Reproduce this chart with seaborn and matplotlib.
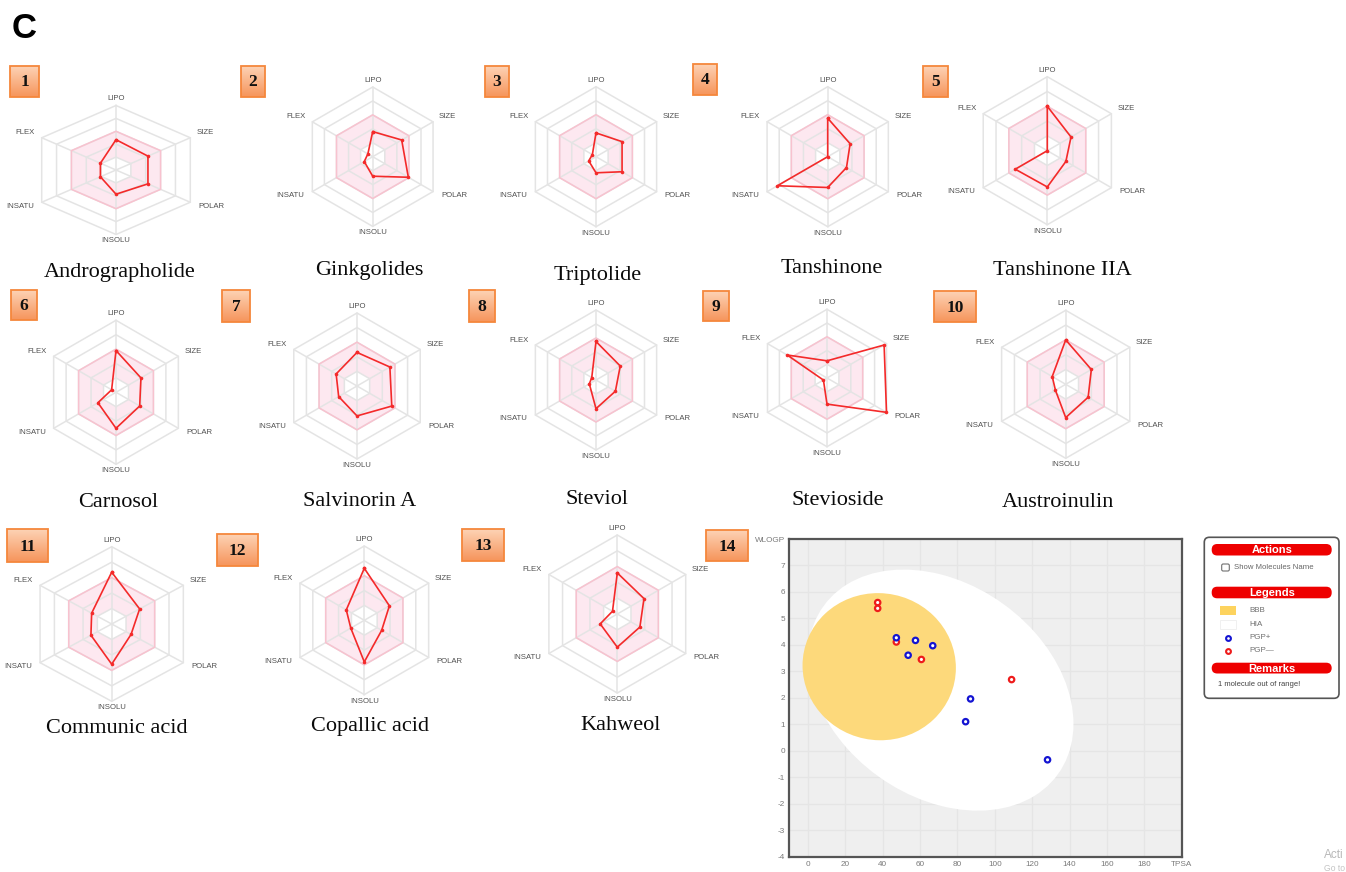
import numpy as np
import pandas as pd
import matplotlib
matplotlib.use("Agg")
import matplotlib.pyplot as plt
import seaborn as sns
from matplotlib.patches import Ellipse, Polygon, Rectangle, FancyBboxPatch
from matplotlib.colors import LinearSegmentedColormap

sns.set_theme(style="white")
plt.rcParams["font.family"] = ["Liberation Sans", "DejaVu Sans"]

# ---------------------------------------------------------------- data
compounds = ["Andrographolide", "Ginkgolides", "Triptolide", "Tanshinone",
             "Tanshinone IIA", "Carnosol", "Salvinorin A", "Steviol",
             "Stevioside", "Austroinulin", "Communic acid", "Copallic acid",
             "Kahweol"]
properties = ["LIPO", "SIZE", "POLAR", "INSOLU", "INSATU", "FLEX"]

# bioavailability radar scores (0 = centre, 1 = outer hexagon)
lipo   = [0.47, 0.36, 0.34, 0.55, 0.60, 0.58, 0.46, 0.55, 0.25, 0.60, 0.67, 0.70, 0.52]
size   = [0.43, 0.48, 0.43, 0.37, 0.37, 0.40, 0.52, 0.40, 0.96, 0.40, 0.39, 0.39, 0.39]
polar  = [0.43, 0.59, 0.43, 0.31, 0.29, 0.38, 0.55, 0.32, 1.00, 0.35, 0.27, 0.27, 0.33]
insolu = [0.375, 0.28, 0.23, 0.44, 0.49, 0.50, 0.41, 0.41, 0.38, 0.45, 0.52, 0.56, 0.42]
insatu = [0.21, 0.14, 0.12, 0.83, 0.50, 0.29, 0.29, 0.11, 0.06, 0.16, 0.29, 0.21, 0.25]
flex   = [0.21, 0.08, 0.06, 0.00, 0.00, 0.07, 0.33, 0.07, 0.67, 0.21, 0.28, 0.28, 0.07]

# BOILED-Egg points
egg_tpsa  = [37.30, 37.30, 47.28, 60.69, 108.97,
             47.28, 57.53, 66.76, 53.60, 86.99, 84.36, 128.20]
egg_wlogp = [5.60, 5.38, 4.11, 3.45, 2.69,
             4.27, 4.17, 3.97, 3.61, 1.96, 1.10, -0.34]
egg_pgp   = ["PGP—"] * 5 + ["PGP+"] * 7

egg_xticks = list(range(0, 181, 20)) + ["TPSA"]
egg_yticks = list(range(-4, 8)) + ["WLOGP"]

# ---------------------------------------------------------------- layout (pixels)
W, H = 1346, 872
radar_center = [(116, 170), (372.7, 156.7), (596, 156.7), (827.7, 156.7), (1047.3, 150.7),
                (116, 392.3), (357, 386), (596, 380), (827, 378), (1065.7, 384.3),
                (111.7, 624), (364.3, 620.3), (617.3, 614)]
radar_radius = [64.5, 69.7, 70, 70, 74, 72, 73, 70, 68.7, 74, 77.3, 74.3, 79]
radar_stretch = [1.33, 1, 1, 1, 1, 1, 1, 1, 1, 1, 1.07, 1, 1]
name_pos = [(120, 272), (369, 270), (598, 275), (832, 268), (1062, 270),
            (118, 502), (360, 501), (597, 499), (838, 500), (1058, 502),
            (117, 728), (370, 726), (621, 725)]
badge_box = [(10, 39, 66, 97), (241, 265, 66, 97), (485, 509, 66, 97), (693, 717, 64, 95),
             (923, 948, 66, 97), (11, 37, 290, 320), (222, 250, 290, 322),
             (469, 495, 290, 322), (703, 729, 291, 321), (934, 976, 291, 322),
             (7, 48, 529, 562), (217, 258, 534, 566), (462, 504, 529, 561),
             (706, 748, 530, 561)]

fig = plt.figure(figsize=(W / 100, H / 100), dpi=100)
fig.patch.set_facecolor("white")


def px_axes(x0, y0, x1, y1, **kw):
    return fig.add_axes([x0 / W, 1 - y1 / H, (x1 - x0) / W, (y1 - y0) / H], **kw)


# full-canvas layer for badges, captions and the legend card
ov = px_axes(0, 0, W, H)
ov.axis("off")
ov.set_zorder(0)

ov.text(12, 28, "C", fontsize=25, fontweight="bold", ha="left", va="center", color="black")

badge_cmap = LinearSegmentedColormap.from_list("badge", ["#fdd2b4", "#f6955c"])
grad = np.linspace(0, 1, 40)[:, None]
for k, (x0, x1, y0, y1) in enumerate(badge_box):
    ov.imshow(grad, extent=(x0, x1, y1, y0), cmap=badge_cmap, aspect="auto", zorder=2)
    ov.add_patch(Rectangle((x0, y0), x1 - x0, y1 - y0, fill=False,
                           edgecolor="#f5873c", lw=1.3, zorder=3))
    ov.text((x0 + x1) / 2, (y0 + y1) / 2 + 1, str(k + 1), family="Liberation Serif",
            fontweight="bold", fontsize=12.5, ha="center", va="center", color="#111111",
            zorder=4)

for name, (nx, ny) in zip(compounds, name_pos):
    ov.text(nx, ny, name, family="Liberation Serif", fontsize=16,
            ha="center", va="center", color="#0a0a0a")

# ---------------------------------------------------------------- radars
theta = np.deg2rad([90, 30, -30, -90, -150, 150])
ux, uy = np.cos(theta), np.sin(theta)
label_style = [((0, 3), "center", "bottom"), ((6, 5), "left", "center"),
               ((8, -4), "left", "center"), ((0, -3), "center", "top"),
               ((-8, -4), "right", "center"), ((-7, 5), "right", "center")]
score_table = pd.DataFrame({"LIPO": lipo, "SIZE": size, "POLAR": polar,
                            "INSOLU": insolu, "INSATU": insatu, "FLEX": flex},
                           index=compounds)

for i, comp in enumerate(compounds):
    cx, cy = radar_center[i]
    r = radar_radius[i]
    sx = radar_stretch[i]
    bw, bh = 1.3 * r * sx, 1.25 * r
    ax = px_axes(cx - bw, cy - bh, cx + bw, cy + bh)
    ax.set_zorder(2)
    ax.set_xlim(-bw / (r * sx), bw / (r * sx))
    ax.set_ylim(-bh / r, bh / r)
    ax.axis("off")

    # optimal (pink) band between the 0.2 and 0.6 hexagons
    ax.add_patch(Polygon(np.c_[0.6 * ux, 0.6 * uy], closed=True, fc="#fde8f0", ec="none", zorder=1))
    ax.add_patch(Polygon(np.c_[0.2 * ux, 0.2 * uy], closed=True, fc="white", ec="none", zorder=1.1))
    for k in (0.2, 0.4, 0.6, 0.8, 1.0):
        ax.add_patch(Polygon(np.c_[k * ux, k * uy], closed=True, fill=False,
                             ec="#e4e4e4", lw=1.1, zorder=2))
    for j in range(6):
        ax.plot([0, ux[j]], [0, uy[j]], color="#e4e4e4", lw=1.1, zorder=2)
    ax.add_patch(Polygon(np.c_[0.6 * ux, 0.6 * uy], closed=True, fill=False,
                         ec="#f8c2cf", lw=1.1, zorder=2.5))

    vals = score_table.loc[comp, properties].to_numpy(dtype=float)
    px_ = np.r_[vals * ux, vals[0] * ux[0]]
    py_ = np.r_[vals * uy, vals[0] * uy[0]]
    sns.lineplot(x=px_, y=py_, sort=False, estimator=None, color="#f42a2a",
                 lw=1.2, marker="o", markersize=2.6, markeredgewidth=0, ax=ax, zorder=3)

    for j, prop in enumerate(properties):
        off, ha, va = label_style[j]
        ax.annotate(prop, (ux[j], uy[j]), xytext=off, textcoords="offset pixels",
                    ha=ha, va=va, fontsize=5.6, color="#505050", annotation_clip=False)

# ---------------------------------------------------------------- BOILED-Egg
egg = px_axes(789.3, 539, 1181.7, 856.7)
egg.set_zorder(2)
egg.set_facecolor("#efefef")
egg.set_xlim(-10, 200)
egg.set_ylim(-4, 8)
egg.set_axisbelow(True)
egg.grid(True, color="#e5e5e5", lw=0.9)
egg.add_patch(Ellipse((71.051, 2.292), 142.081, 8.740, angle=-1.031325,
                      fc="white", ec="none", zorder=1))
egg.add_patch(Ellipse((38.117, 3.177), 82.061, 5.557, angle=-0.066989,
                      fc="#fdd97b", ec="none", zorder=2))

egg_df = pd.DataFrame({"TPSA": egg_tpsa, "WLOGP": egg_wlogp, "PGP": egg_pgp})
pgp_colors = {"PGP+": "#1414d2", "PGP—": "#ee1c1c"}
sns.scatterplot(data=egg_df, x="TPSA", y="WLOGP", hue="PGP", palette=pgp_colors,
                s=15, legend=False, ax=egg, zorder=4)
pts = egg.collections[-1]
pts.set_edgecolors(pts.get_facecolors())
pts.set_facecolors("white")
pts.set_linewidths(1.6)

egg.set_xticks(np.arange(0, 201, 20))
egg.set_xticklabels([str(t) for t in egg_xticks])
egg.set_yticks(np.arange(-4, 9, 1))
egg.set_yticklabels([str(t) for t in egg_yticks])
egg.tick_params(length=0, labelsize=5.9, labelcolor="#7a7a7a", pad=3)
egg.set_xlabel("")
egg.set_ylabel("")
for sp in egg.spines.values():
    sp.set_visible(True)
    sp.set_color("#555555")
    sp.set_linewidth(1.6)

# ---------------------------------------------------------------- legend card
ov.add_patch(FancyBboxPatch((1204.3, 537.3), 134.7, 161,
                            boxstyle="round,pad=0,rounding_size=5",
                            fc="white", ec="#555555", lw=1.2, zorder=2))
for title, (y0, y1) in [("Actions", (544, 555.5)), ("Legends", (586.7, 598.3)),
                        ("Remarks", (662.7, 673.5))]:
    ov.add_patch(FancyBboxPatch((1211.7, y0), 120, y1 - y0,
                                boxstyle="round,pad=0,rounding_size=5.5",
                                fc="#ee0000", ec="none", zorder=3))
    ov.text(1271.7, (y0 + y1) / 2 + 0.5, title, color="white", fontweight="bold",
            fontsize=8, ha="center", va="center", zorder=4)

ov.add_patch(FancyBboxPatch((1221.7, 564), 7.6, 7, boxstyle="round,pad=0,rounding_size=1.5",
                            fc="white", ec="#707070", lw=0.8, zorder=3))
ov.text(1234, 567.8, "Show Molecules Name", fontsize=5.6, color="#666666",
        ha="left", va="center", zorder=4)

ov.add_patch(Rectangle((1220, 606), 16, 9, fc="#fdd35e", ec="none", zorder=3))
ov.add_patch(Rectangle((1220, 619.5), 16, 9.5, fc="white", ec="#eeeeee", lw=0.6, zorder=3))
ov.scatter([1228.3], [637.7], s=12, facecolors="white", edgecolors=pgp_colors["PGP+"],
           linewidths=1.5, zorder=4)
ov.scatter([1228.3], [650.7], s=12, facecolors="white", edgecolors=pgp_colors["PGP—"],
           linewidths=1.5, zorder=4)
for lab, yy in [("BBB", 610.7), ("HIA", 624.3), ("PGP+", 637.7), ("PGP—", 650.7)]:
    ov.text(1249.3, yy, lab, fontsize=5.8, color="#707070", ha="left", va="center", zorder=4)
ov.text(1218.3, 684, "1 molecule out of range!", fontsize=5.5, color="#444444",
        ha="left", va="center", zorder=4)

ov.text(1324, 855, "Acti", fontsize=8.5, color="#b8b8b8", ha="left", va="center")
ov.text(1324, 868.5, "Go to", fontsize=6.2, color="#c4c4c4", ha="left", va="center")

ov.set_xlim(0, W)
ov.set_ylim(H, 0)

fig.savefig("out.png", dpi=100, facecolor="white")
